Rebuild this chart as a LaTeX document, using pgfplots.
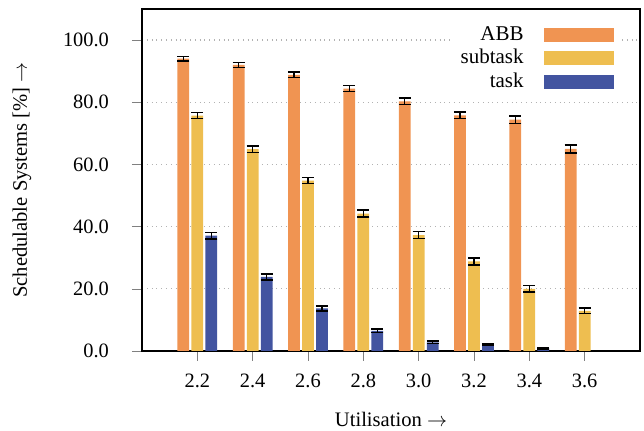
\documentclass[border=0pt]{standalone}
\usepackage{fontspec}
\setmainfont{Liberation Serif}
\usepackage{pgfplots}
\usepackage{pgfplotstable}
\pgfplotsset{compat=1.18}
\definecolor{cabb}{HTML}{F09452}
\definecolor{csub}{HTML}{EEBE50}
\definecolor{ctask}{HTML}{4254A0}
\pgfplotstableread{
x abb abbe sub sube task taske
2.2 94.0 0.7 75.7 1.0 37.1 1.1
2.4 92.0 0.8 64.9 1.0 23.8 1.0
2.6 88.8 0.9 54.8 1.0 13.7 0.8
2.8 84.4 1.0 44.2 1.1 6.5 0.6
3.0 80.3 1.1 37.3 1.1 2.8 0.4
3.2 75.8 1.1 28.8 1.1 2.0 0.3
3.4 74.4 1.2 20.0 1.0 0.9 0.2
3.6 65.0 1.3 12.9 0.9 0.1 0.1
}\datatable
\begin{document}
\begin{tikzpicture}
\begin{axis}[
  name=ax,
  scale only axis,
  width=249pt, height=171pt,
  xmin=2.0, xmax=3.8, ymin=0, ymax=110,
  ybar=1.15pt, bar width=5.85pt,
  xtick={2.2,2.4,2.6,2.8,3.0,3.2,3.4,3.6},
  ytick={0,20,40,60,80,100},
  tick align=outside, major tick length=5pt,
  tick pos=left,
  xticklabel style={yshift=-3pt, /pgf/number format/.cd, fixed, fixed zerofill, precision=1, assume math mode=true},
  yticklabel style={xshift=-8pt, /pgf/number format/.cd, fixed, fixed zerofill, precision=1, assume math mode=true},
  ticklabel style={font=\fontsize{10.2}{12}\selectfont},
  label style={font=\fontsize{10.3}{12}\selectfont},
  xlabel={Utilisation $\rightarrow$},
  ylabel={Schedulable Systems [\%] $\rightarrow$},
  xlabel style={yshift=-5.3pt},
  ylabel style={yshift=9pt},
  ymajorgrids, grid style={gray!60, dotted, line width=0.6pt},
  axis line style={line width=0.7pt},
  legend plot pos=right,
  legend cell align=right,
  legend image code/.code={\fill[#1,draw=none] (0pt,-3.5pt) rectangle (35pt,3.5pt);},
  legend style={at={(1,1)}, anchor=north east, xshift=-10pt, yshift=-4.5pt,
    draw=none, fill=white, font=\fontsize{10.5}{12}\selectfont, row sep=-1pt,
    /tikz/every odd column/.append style={column sep=8pt}},
  error bars/error bar style={black, line width=0.6pt},
  error bars/error mark options={black, mark size=3pt, line width=0.7pt, rotate=90},
]
\addplot[fill=cabb, draw=none, error bars/.cd, y dir=both, y explicit] table[x=x, y=abb, y error=abbe] {\datatable};
\addplot[fill=csub, draw=none, error bars/.cd, y dir=both, y explicit] table[x=x, y=sub, y error=sube] {\datatable};
\addplot[fill=ctask, draw=none, error bars/.cd, y dir=both, y explicit] table[x=x, y=task, y error=taske] {\datatable};
\legend{ABB, subtask, task}
\end{axis}
\pgfresetboundingbox
\useasboundingbox ([xshift=-71pt,yshift=-40pt]ax.south west) rectangle ([xshift=2pt,yshift=4.5pt]ax.north east);
\end{tikzpicture}
\end{document}
